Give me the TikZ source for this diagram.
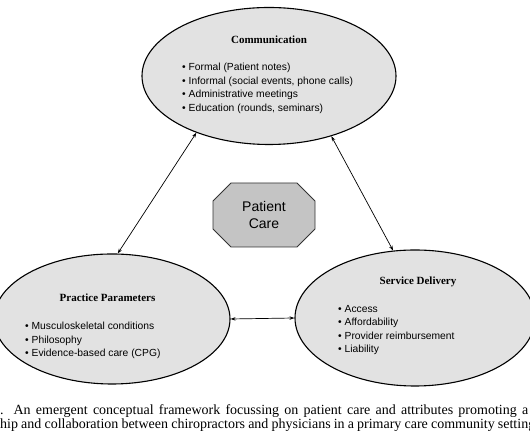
\documentclass[tikz,border=0pt]{standalone}
\usepackage{fontspec}
\setmainfont{Liberation Serif}
\newfontfamily\arialfont{Liberation Sans}
\usetikzlibrary{shapes.geometric,shapes.misc,arrows.meta,positioning}

\definecolor{bubblegray}{HTML}{E2E2E2}
\definecolor{coregray}{HTML}{C4C4C4}

\tikzset{
  bubble/.style={ellipse,draw=black,fill=bubblegray,line width=1.1pt,inner sep=0pt},
  heading/.style={font=\bfseries\fontsize{11}{13}\selectfont,inner sep=0pt},
  items/.style={align=left,anchor=north west,inner sep=0pt,
    font=\arialfont\fontsize{10.3}{13.5}\selectfont},
  core/.style={chamfered rectangle,chamfered rectangle xsep=15pt,
    draw=black!80,fill=coregray,line width=0.9pt,minimum width=102pt,minimum height=64pt,
    align=center,font=\arialfont\fontsize{14}{17}\selectfont},
  link/.style={{Stealth[length=5pt,width=3.5pt]}-{Stealth[length=5pt,width=3.5pt]},line width=0.7pt},
  capline/.style={anchor=base west,inner sep=0pt,font=\fontsize{14}{16}\selectfont}
}

\begin{document}
\begin{tikzpicture}[x=1pt,y=1pt]
  \useasboundingbox (0,0) rectangle (530,443);
  \clip (0,0) rectangle (530,443);

  % the three areas
  \node[bubble,minimum width=254pt,minimum height=137pt] (comm) at (269,367) {};
  \node[bubble,minimum width=236pt,minimum height=130pt] (pract) at (112,124) {};
  \node[bubble,minimum width=240pt,minimum height=136pt] (serv) at (415,125) {};

  \node[heading] (commhead) at ([yshift=-32.5pt]comm.north) {Communication};
  \node[items] (commlist) at (182,380) {\textbullet\ Formal (Patient notes)\\
    \textbullet\ Informal (social events, phone calls)\\
    \textbullet\ Administrative meetings\\
    \textbullet\ Education (rounds, seminars)};

  \node[heading] (practhead) at (107.5,145) {Practice Parameters};
  \node[items] (practlist) at (25,121) {\textbullet\ Musculoskeletal conditions\\
    \textbullet\ Philosophy\\
    \textbullet\ Evidence-based care (CPG)};

  \node[heading] (servhead) at (418,161) {Service Delivery};
  \node[items] (servlist) at (338,138) {\textbullet\ Access\\
    \textbullet\ Affordability\\
    \textbullet\ Provider reimbursement\\
    \textbullet\ Liability};

  % centre
  \node[core] (care) at (264,228) {Patient\\Care};

  \draw[link] (comm.218) -- (pract.85);
  \draw[link] (comm.316) -- (serv.108);
  \draw[link] (pract.east) -- (serv.west);

  % caption
  \node[capline] (cap1) at (-7,28) {\makebox[535pt][s]{1. An emergent conceptual framework focussing on patient care and attributes promoting a}};
  \node[capline] (cap2) at (0,14) {\makebox[535pt][s]{hip and collaboration between chiropractors and physicians in a primary care community setting}};
\end{tikzpicture}
\end{document}
